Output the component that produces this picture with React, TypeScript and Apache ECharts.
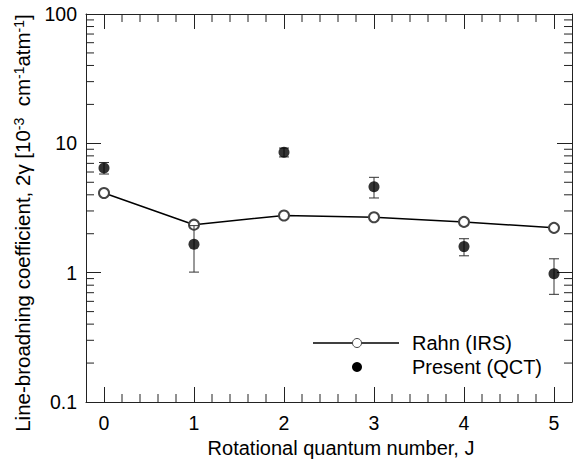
import React, { useEffect, useRef } from "react";
import * as echarts from "echarts";

const J = [0, 1, 2, 3, 4, 5];
const rahnIRS = [4.13, 2.35, 2.77, 2.68, 2.47, 2.22];
const presentQCT = [6.45, 1.66, 8.52, 4.62, 1.59, 0.98];
const presentErr = [0.66, 0.65, 0.67, 0.84, 0.24, 0.3];
const yMinorTicks = [0.2, 0.3, 0.4, 0.5, 0.6, 0.7, 0.8, 0.9, 2, 3, 4, 5, 6, 7, 8, 9, 20, 30, 40, 50, 60, 70, 80, 90];
const xMinorTicks = [0.2, 0.4, 0.6, 0.8, 1.2, 1.4, 1.6, 1.8, 2.2, 2.4, 2.6, 2.8, 3.2, 3.4, 3.6, 3.8, 4.2, 4.4, 4.6, 4.8];
const X_MIN = -0.2;
const X_MAX = 5.2;
const Y_MIN = 0.1;
const Y_MAX = 100;

const FONT = 'Arial, "Liberation Sans", sans-serif';
const AX = "#222";

export default function App() {
  const ref = useRef<HTMLDivElement>(null);
  useEffect(() => {
    if (!ref.current) return;
    document.body.style.margin = "0";
    const chart = echarts.init(ref.current, undefined, { renderer: "svg" });
    const tickCommon = { show: true, inside: true, length: 15, lineStyle: { color: AX, width: 1 } };
    const lineCommon = { show: true, onZero: false, lineStyle: { color: AX, width: 1 } };
    const option: any = {
      animation: false,
      backgroundColor: "#fff",
      grid: { left: 86, right: 12, top: 14, bottom: 59, containLabel: false, outerBoundsMode: "none" },
      xAxis: [
        {
          type: "value",
          min: X_MIN,
          max: X_MAX,
          position: "bottom",
          axisLine: lineCommon,
          axisTick: tickCommon,
          splitLine: { show: false },
          axisLabel: {
            margin: 11,
            fontSize: 19.5,
            color: "#000",
            fontFamily: FONT,
            showMinLabel: false,
            showMaxLabel: false,
          },
          name: "Rotational quantum number, J",
          nameLocation: "middle",
          nameGap: 34,
          nameTextStyle: { fontSize: 20, color: "#000", fontFamily: FONT, padding: [0, 0, 0, 24] },
        },
        {
          type: "value",
          min: X_MIN,
          max: X_MAX,
          position: "top",
          axisLine: lineCommon,
          axisTick: tickCommon,
          splitLine: { show: false },
          axisLabel: { show: false },
        },
      ],
      yAxis: [
        {
          type: "log",
          logBase: 10,
          min: Y_MIN,
          max: Y_MAX,
          position: "left",
          axisLine: lineCommon,
          axisTick: tickCommon,
          splitLine: { show: false },
          axisLabel: { margin: 9, fontSize: 19.5, color: "#000", fontFamily: FONT },
          name: "Line-broadning coefficient, 2γ [10{s|-3}  cm{s|-1}atm{s|-1}]",
          nameLocation: "middle",
          nameRotate: 90,
          nameGap: 36,
          nameTextStyle: {
            fontSize: 20.5,
            color: "#000",
            fontFamily: FONT,
            lineHeight: 22,
            padding: [0, 30, 0, 0],
            rich: {
              s: { fontSize: 14, fontFamily: FONT, color: "#000", verticalAlign: "top", lineHeight: 22 },
            },
          },
        },
        {
          type: "log",
          logBase: 10,
          min: Y_MIN,
          max: Y_MAX,
          position: "right",
          axisLine: lineCommon,
          axisTick: tickCommon,
          splitLine: { show: false },
          axisLabel: { show: false },
        },
      ],
      graphic: [
        { type: "line", shape: { x1: 313, y1: 343, x2: 399, y2: 343 }, style: { stroke: "#000", lineWidth: 1.5 }, z: 10 },
        { type: "circle", shape: { cx: 357, cy: 343, r: 4.5 }, style: { fill: "#fff", stroke: "#444", lineWidth: 1 }, z: 11 },
        { type: "circle", shape: { cx: 357, cy: 367, r: 5 }, style: { fill: "#000" }, z: 11 },
        {
          type: "text",
          x: 412,
          y: 343,
          style: { text: "Rahn (IRS)", fontSize: 20, fontFamily: FONT, fill: "#000", verticalAlign: "middle", align: "left" },
          z: 11,
        },
        {
          type: "text",
          x: 412,
          y: 367,
          style: { text: "Present (QCT)", fontSize: 20, fontFamily: FONT, fill: "#000", verticalAlign: "middle", align: "left" },
          z: 11,
        },
      ],
      series: [
        {
          name: "minorY",
          type: "custom",
          silent: true,
          clip: false,
          data: yMinorTicks.map((v) => [0, v]),
          renderItem: (params: any, api: any) => {
            const cs = params.coordSys;
            const p = api.coord([0, api.value(1)]);
            const y = p[1];
            return {
              type: "group",
              children: [
                { type: "line", shape: { x1: cs.x, y1: y, x2: cs.x + 8, y2: y }, style: { stroke: AX, lineWidth: 1 } },
                { type: "line", shape: { x1: cs.x + cs.width - 8, y1: y, x2: cs.x + cs.width, y2: y }, style: { stroke: AX, lineWidth: 1 } },
              ],
            };
          },
        },
        {
          name: "minorX",
          type: "custom",
          silent: true,
          clip: false,
          data: xMinorTicks.map((v) => [v, 1]),
          renderItem: (params: any, api: any) => {
            const cs = params.coordSys;
            const p = api.coord([api.value(0), 1]);
            const x = p[0];
            return {
              type: "group",
              children: [
                { type: "line", shape: { x1: x, y1: cs.y + cs.height, x2: x, y2: cs.y + cs.height - 8 }, style: { stroke: AX, lineWidth: 1 } },
                { type: "line", shape: { x1: x, y1: cs.y, x2: x, y2: cs.y + 8 }, style: { stroke: AX, lineWidth: 1 } },
              ],
            };
          },
        },
        {
          name: "Rahn (IRS)",
          type: "line",
          data: J.map((j, i) => [j, rahnIRS[i]]),
          symbol: "emptyCircle",
          symbolSize: 10,
          lineStyle: { color: "#000", width: 1.5 },
          itemStyle: { color: "#444", borderWidth: 1 },
          z: 3,
        },
        {
          name: "errors",
          type: "custom",
          data: J.map((j, i) => [j, presentQCT[i] - presentErr[i], presentQCT[i] + presentErr[i]]),
          renderItem: (params: any, api: any) => {
            const lo = api.coord([api.value(0), api.value(1)]);
            const hi = api.coord([api.value(0), api.value(2)]);
            const hw = 5;
            const st = { stroke: "#333", lineWidth: 1 };
            return {
              type: "group",
              children: [
                { type: "line", shape: { x1: lo[0], y1: lo[1], x2: hi[0], y2: hi[1] }, style: st },
                { type: "line", shape: { x1: lo[0] - hw, y1: lo[1], x2: lo[0] + hw, y2: lo[1] }, style: st },
                { type: "line", shape: { x1: hi[0] - hw, y1: hi[1], x2: hi[0] + hw, y2: hi[1] }, style: st },
              ],
            };
          },
          z: 4,
        },
        {
          name: "Present (QCT)",
          type: "scatter",
          data: J.map((j, i) => [j, presentQCT[i]]),
          symbol: "circle",
          symbolSize: 11,
          itemStyle: { color: "#000" },
          z: 5,
        },
      ],
    };
    chart.setOption(option);
    return () => chart.dispose();
  }, []);
  return <div ref={ref} style={{ width: 584, height: 461 }} />;
}
